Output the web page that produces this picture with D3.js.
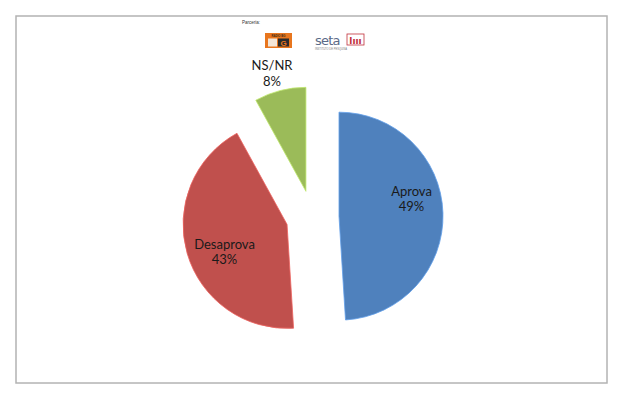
<!DOCTYPE html>
<html><head><meta charset="utf-8">
<script src="https://cdn.jsdelivr.net/npm/d3@7/dist/d3.min.js"></script>
<style>html,body{margin:0;padding:0;background:#fff;}</style>
</head><body>
<svg id="c" width="628" height="404"></svg>
<script>
const categories = ["Aprova", "Desaprova", "NS/NR"];
const values = [49, 43, 8];
const labels = ["49%", "43%", "8%"];
const colors = ["#4F81BD", "#C0504D", "#9BBB59"];

const svg = d3.select("#c");
svg.append("rect").attr("x", 16).attr("y", 16).attr("width", 591).attr("height", 367)
  .attr("fill", "#fff").attr("stroke", "#b3b3b3").attr("stroke-width", 1.5);

// Partner logos header
svg.append("text").attr("x", 242).attr("y", 24).text("Parceria:")
  .attr("font-family", "Liberation Sans, Arial").attr("font-size", 4.5).attr("fill", "#333");
const lg = svg.append("g");
lg.append("rect").attr("x", 265).attr("y", 33).attr("width", 27).attr("height", 15).attr("fill", "#E8761E");
lg.append("text").attr("x", 278.5).attr("y", 36.5).attr("text-anchor", "middle").text("RADIO BG")
  .attr("font-family", "Liberation Sans").attr("font-size", 2.8).attr("font-weight", "bold").attr("fill", "#3a2a1a");
lg.append("rect").attr("x", 268).attr("y", 38.5).attr("width", 9).attr("height", 8).attr("fill", "#f3e6d8");
lg.append("rect").attr("x", 278).attr("y", 38.5).attr("width", 11).attr("height", 8).attr("fill", "#2b2b2b");
lg.append("text").attr("x", 283.5).attr("y", 45.5).attr("text-anchor", "middle").text("G")
  .attr("font-family", "Liberation Sans").attr("font-size", 8).attr("font-weight", "bold").attr("fill", "#E8761E");
lg.append("text").attr("x", 315).attr("y", 45).text("seta")
  .attr("font-family", "DejaVu Sans").attr("font-size", 13).attr("fill", "#5a6a88").attr("letter-spacing", -0.8);
lg.append("rect").attr("x", 347).attr("y", 34).attr("width", 17).attr("height", 11).attr("fill", "#fff").attr("stroke", "#c0303a").attr("stroke-width", 0.8);
lg.append("text").attr("x", 355.5).attr("y", 43.5).attr("text-anchor", "middle").text("lııı")
  .attr("font-family", "DejaVu Sans").attr("font-size", 9).attr("font-weight", "bold").attr("fill", "#c0303a");
lg.append("text").attr("x", 315).attr("y", 49.5).text("INSTITUTO DE PESQUISA")
  .attr("font-family", "Liberation Sans").attr("font-size", 2.6).attr("fill", "#777");

// Pie
const cx = 312.5, cy = 217, R = 104, explode = 26.5;
const pie = d3.pie().sort(null).value(d => d);
const arcs = pie(values);
const arc = d3.arc().innerRadius(0).outerRadius(R);
const g = svg.append("g").attr("transform", `translate(${cx},${cy})`);

const labelPos = [[99, -21.5], [-88, 31.7], [-40.5, -147]];
arcs.forEach((a, i) => {
  const mid = (a.startAngle + a.endAngle) / 2;
  const dx = explode * Math.sin(mid), dy = -explode * Math.cos(mid);
  const sg = g.append("g").attr("transform", `translate(${dx},${dy})`);
  sg.append("path").attr("d", arc(a)).attr("fill", colors[i])
    .attr("stroke", d3.color(colors[i]).brighter(0.6)).attr("stroke-width", 0.8);
  const t = g.append("text").attr("text-anchor", "middle")
    .attr("font-family", "Lato, 'Open Sans', sans-serif").attr("font-size", 13).attr("fill", "#1a1a1a");
  t.append("tspan").attr("x", labelPos[i][0]).attr("y", labelPos[i][1]).text(categories[i]);
  t.append("tspan").attr("x", labelPos[i][0]).attr("y", labelPos[i][1] + 15.5).text(labels[i]);
});
</script>
</body></html>
